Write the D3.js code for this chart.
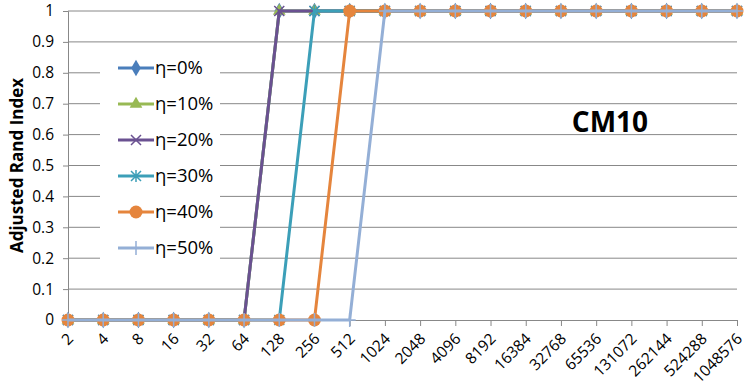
<!DOCTYPE html>
<html>
<head>
<meta charset="utf-8">
<script src="https://cdn.jsdelivr.net/npm/d3@7"></script>
<style>
  body { margin: 0; background: #fff; }
  text { font-family: "Open Sans", "Liberation Sans", sans-serif; fill: #000; }
</style>
</head>
<body>
<svg id="chart" width="748" height="387"></svg>
<script>
// Data
const categories = ["2","4","8","16","32","64","128","256","512","1024","2048","4096",
  "8192","16384","32768","65536","131072","262144","524288","1048576"];
const eta0  = [0,0,0,0,0,0,1,1,1,1,1,1,1,1,1,1,1,1,1,1];
const eta10 = [0,0,0,0,0,0,1,1,1,1,1,1,1,1,1,1,1,1,1,1];
const eta20 = [0,0,0,0,0,0,1,1,1,1,1,1,1,1,1,1,1,1,1,1];
const eta30 = [0,0,0,0,0,0,0,1,1,1,1,1,1,1,1,1,1,1,1,1];
const eta40 = [0,0,0,0,0,0,0,0,1,1,1,1,1,1,1,1,1,1,1,1];
const eta50 = [0,0,0,0,0,0,0,0,0,1,1,1,1,1,1,1,1,1,1,1];
const seriesNames = ["η=0%","η=10%","η=20%","η=30%","η=40%","η=50%"];
const yTicks = [0,0.1,0.2,0.3,0.4,0.5,0.6,0.7,0.8,0.9,1];

const series = [
  {name: seriesNames[0], values: eta0,  color: "#4a7ebb", marker: "diamond"},
  {name: seriesNames[1], values: eta10, color: "#98b954", marker: "triangle"},
  {name: seriesNames[2], values: eta20, color: "#6a5191", marker: "x"},
  {name: seriesNames[3], values: eta30, color: "#3c9fb8", marker: "star"},
  {name: seriesNames[4], values: eta40, color: "#e5853d", marker: "circle"},
  {name: seriesNames[5], values: eta50, color: "#94afd6", marker: "plus"}
];

const margin = {top: 11, right: 11, bottom: 67, left: 68};
const width = 748 - margin.left - margin.right,
      height = 387 - margin.top - margin.bottom;

const svg = d3.select("#chart")
  .append("g")
    .attr("transform", `translate(${margin.left},${margin.top})`);

const x = d3.scalePoint().domain(categories).range([0, width]);
const y = d3.scaleLinear().domain([0, 1]).range([height, 0]);

// Gridlines
svg.append("g")
  .selectAll("line")
  .data(yTicks.filter(d => d > 0))
  .enter().append("line")
    .attr("x1", 0).attr("x2", width)
    .attr("y1", d => y(d)).attr("y2", d => y(d))
    .attr("stroke", "#888").attr("stroke-width", 1);

// Y axis
const yAxis = svg.append("g")
  .call(d3.axisLeft(y).tickValues(yTicks).tickFormat(d3.format("")).tickSize(5).tickPadding(9));
yAxis.select(".domain").attr("stroke", "#888");
yAxis.selectAll(".tick line").attr("stroke", "#888");
yAxis.selectAll("text").style("font-size", "15.5px").attr("fill", "#000");

// X axis
const xAxis = svg.append("g")
  .attr("transform", `translate(0,${height})`)
  .call(d3.axisBottom(x).tickSize(6).tickSizeOuter(0));
xAxis.select(".domain").attr("stroke", "#888");
xAxis.selectAll(".tick line").attr("stroke", "#888");
xAxis.selectAll("text")
  .style("font-size", "15.5px")
  .attr("fill", "#000")
  .attr("text-anchor", "end")
  .attr("dy", "0.35em")
  .attr("transform", "translate(2,16) rotate(-45)")
  .attr("x", 0).attr("y", 0);

// Y axis label
svg.append("text")
  .attr("transform", "rotate(-90)")
  .attr("x", -height / 2)
  .attr("y", -margin.left + 23)
  .attr("text-anchor", "middle")
  .style("font-size", "17px")
  .style("font-weight", "bold")
  .text("Adjusted Rand Index");

// Marker drawing
function drawMarker(g, type, color) {
  if (type === "diamond") {
    g.append("path").attr("d", d3.symbol(d3.symbolDiamond, 80)()).attr("fill", color);
  } else if (type === "triangle") {
    g.append("path").attr("d", d3.symbol(d3.symbolTriangle, 70)()).attr("fill", color);
  } else if (type === "x") {
    g.append("path").attr("d", "M-5,-5L5,5M-5,5L5,-5").attr("stroke", color).attr("stroke-width", 1.5);
  } else if (type === "star") {
    g.append("path").attr("d", "M-5,-5L5,5M-5,5L5,-5M0,-6L0,6").attr("stroke", color).attr("stroke-width", 1.5);
  } else if (type === "circle") {
    g.append("circle").attr("r", 6.5).attr("fill", color);
  } else if (type === "plus") {
    g.append("path").attr("d", "M-6,0L6,0M0,-7L0,7").attr("stroke", color).attr("stroke-width", 1.5);
  }
}

const line = d3.line()
  .x((d, i) => x(categories[i]))
  .y(d => y(d));

// Series
series.forEach(s => {
  const g = svg.append("g");
  g.append("path")
    .datum(s.values)
    .attr("fill", "none")
    .attr("stroke", s.color)
    .attr("stroke-width", 3)
    .attr("d", line);
  g.selectAll(".m")
    .data(s.values)
    .enter().append("g")
      .attr("transform", (d, i) => `translate(${x(categories[i])},${y(d)})`)
      .each(function() { drawMarker(d3.select(this), s.marker, s.color); });
});

// Legend
const legend = svg.append("g").attr("transform", "translate(32,34)");
legend.append("rect")
  .attr("x", 0).attr("y", 0).attr("width", 120).attr("height", 236)
  .attr("fill", "#fff");
series.forEach((s, i) => {
  const row = legend.append("g").attr("transform", `translate(18,${23 + i * 36})`);
  row.append("line")
    .attr("x1", 0).attr("x2", 36)
    .attr("stroke", s.color).attr("stroke-width", 3);
  const m = row.append("g").attr("transform", "translate(18,0)");
  drawMarker(m, s.marker, s.color);
  row.append("text")
    .attr("x", 37).attr("y", 0).attr("dy", "0.35em")
    .style("font-size", "18.5px")
    .text(s.name);
});

// Title
svg.append("text")
  .attr("x", 542)
  .attr("y", 121)
  .attr("text-anchor", "middle")
  .style("font-size", "28px")
  .style("font-weight", "bold")
  .text("CM10");
</script>
</body>
</html>
